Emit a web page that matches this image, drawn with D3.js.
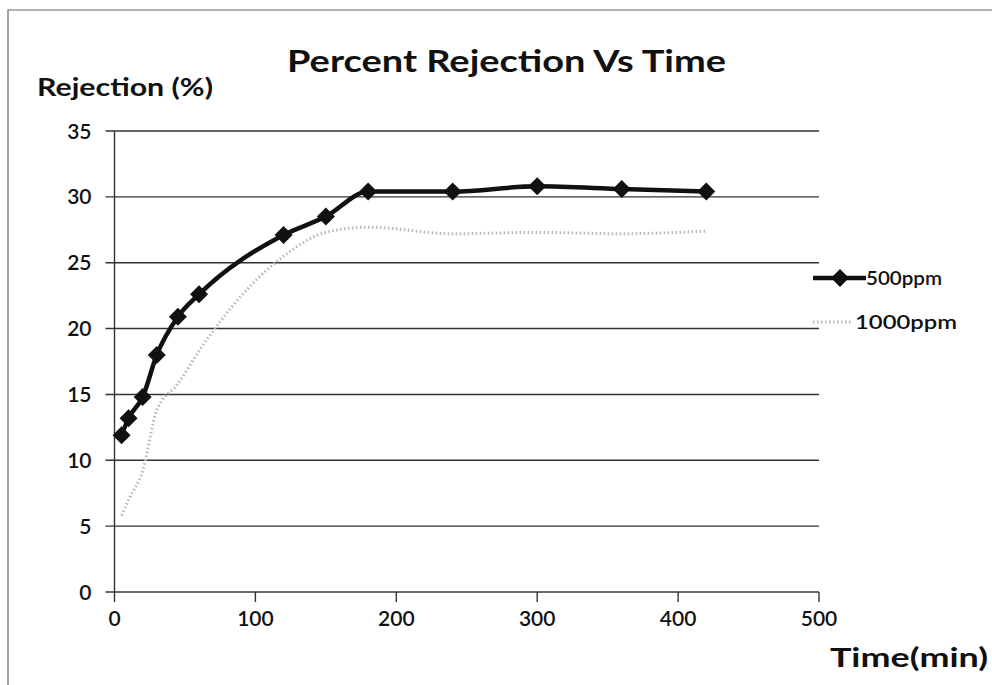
<!DOCTYPE html>
<html>
<head>
<meta charset="utf-8">
<script src="https://cdn.jsdelivr.net/npm/d3@7/dist/d3.min.js"></script>
<style>
  html, body { margin: 0; padding: 0; background: #fff; }
  svg { display: block; font-family: Lato, "Open Sans", sans-serif; }
</style>
</head>
<body>
<svg id="chart" width="992" height="685"></svg>
<script>
// Sampling times (min)
const times = [5, 10, 20, 30, 45, 60, 120, 150, 180, 240, 300, 360, 420];
// Percent rejection at 500 ppm feed
const rej500 = [11.9, 13.2, 14.8, 18.0, 20.9, 22.6, 27.1, 28.5, 30.4, 30.4, 30.8, 30.6, 30.4];
// Percent rejection at 1000 ppm feed
const rej1000 = [5.8, 7.0, 9.2, 13.8, 15.8, 18.3, 25.5, 27.3, 27.7, 27.2, 27.3, 27.2, 27.4];
const xTicks = [0, 100, 200, 300, 400, 500];
const yTicks = [0, 5, 10, 15, 20, 25, 30, 35];
const seriesNames = ["500ppm", "1000ppm"];

const svg = d3.select("#chart");
const x = d3.scaleLinear().domain([0, 500]).range([114.5, 819]);
const y = d3.scaleLinear().domain([0, 35]).range([592, 131]);
const ink = "#111";

// outer frame (top and left edges)
svg.append("path")
  .attr("d", "M8,685 V10 H992")
  .attr("fill", "none").attr("stroke", "#666").attr("stroke-width", 1.2);

// horizontal gridlines with short left ticks
svg.append("g").selectAll("line").data(yTicks).join("line")
  .attr("x1", x(0) - 9).attr("x2", x(500))
  .attr("y1", d => y(d)).attr("y2", d => y(d))
  .attr("stroke", "#333").attr("stroke-width", 1.4);

// y axis line
svg.append("line")
  .attr("x1", x(0)).attr("x2", x(0)).attr("y1", y(35)).attr("y2", y(0))
  .attr("stroke", "#333").attr("stroke-width", 1.4);

// x axis ticks
svg.append("g").selectAll("line").data(xTicks).join("line")
  .attr("x1", d => x(d)).attr("x2", d => x(d))
  .attr("y1", y(0)).attr("y2", y(0) + 10)
  .attr("stroke", "#333").attr("stroke-width", 1.4);

// tick labels
svg.append("g").selectAll("text").data(yTicks).join("text")
  .attr("x", x(0) - 23).attr("y", d => y(d)).attr("dy", "0.36em")
  .attr("text-anchor", "end").attr("font-size", 21).attr("font-weight", 600).attr("fill", ink)
  .text(d => d);
svg.append("g").selectAll("text").data(xTicks).join("text")
  .attr("x", d => x(d)).attr("y", y(0) + 34)
  .attr("text-anchor", "middle").attr("font-size", 21).attr("font-weight", 600).attr("fill", ink)
  .text(d => d);

// titles
svg.append("text").attr("x", 287).attr("y", 72)
  .attr("font-size", 30).attr("font-weight", "bold").attr("fill", ink)
  .attr("textLength", 439).attr("lengthAdjust", "spacingAndGlyphs")
  .text("Percent Rejection Vs Time");
svg.append("text").attr("x", 37).attr("y", 96)
  .attr("font-size", 25).attr("font-weight", "bold").attr("fill", ink)
  .attr("textLength", 176).attr("lengthAdjust", "spacingAndGlyphs")
  .text("Rejection (%)");
svg.append("text").attr("x", 830).attr("y", 667)
  .attr("font-size", 27).attr("font-weight", "bold").attr("fill", ink)
  .attr("textLength", 158).attr("lengthAdjust", "spacingAndGlyphs")
  .text("Time(min)");

const line = d3.line().x(d => x(d[0])).y(d => y(d[1])).curve(d3.curveMonotoneX);
const d500 = times.map((t, i) => [t, rej500[i]]);
const d1000 = times.map((t, i) => [t, rej1000[i]]);

// 1000 ppm series: faint dotted grey
svg.append("path").datum(d1000).attr("d", line)
  .attr("fill", "none").attr("stroke", "#b8b8b8").attr("stroke-width", 3)
  .attr("stroke-dasharray", "1.5 2.5");

// 500 ppm series: heavy black line with square-diamond markers
svg.append("path").datum(d500).attr("d", line)
  .attr("fill", "none").attr("stroke", ink).attr("stroke-width", 4.5);
const r = 9;
const diamond = `M0,${-r}L${r},0L0,${r}L${-r},0Z`;
svg.append("g").selectAll("path").data(d500).join("path")
  .attr("transform", d => `translate(${x(d[0])},${y(d[1])})`)
  .attr("d", diamond).attr("fill", ink);

// legend
const lg = svg.append("g");
lg.append("line").attr("x1", 813).attr("x2", 866).attr("y1", 278).attr("y2", 278)
  .attr("stroke", ink).attr("stroke-width", 4.5);
lg.append("path").attr("transform", "translate(840,278)").attr("d", diamond).attr("fill", ink);
lg.append("line").attr("x1", 813).attr("x2", 852).attr("y1", 322).attr("y2", 322)
  .attr("stroke", "#b8b8b8").attr("stroke-width", 3).attr("stroke-dasharray", "1.5 2.5");
lg.append("text").attr("x", 866).attr("y", 278).attr("dy", "0.36em")
  .attr("font-size", 20).attr("font-weight", 600).attr("fill", ink)
  .attr("textLength", 76).attr("lengthAdjust", "spacingAndGlyphs")
  .text(seriesNames[0]);
lg.append("text").attr("x", 855).attr("y", 322).attr("dy", "0.36em")
  .attr("font-size", 20).attr("font-weight", 600).attr("fill", ink)
  .attr("textLength", 102).attr("lengthAdjust", "spacingAndGlyphs")
  .text(seriesNames[1]);
</script>
</body>
</html>
